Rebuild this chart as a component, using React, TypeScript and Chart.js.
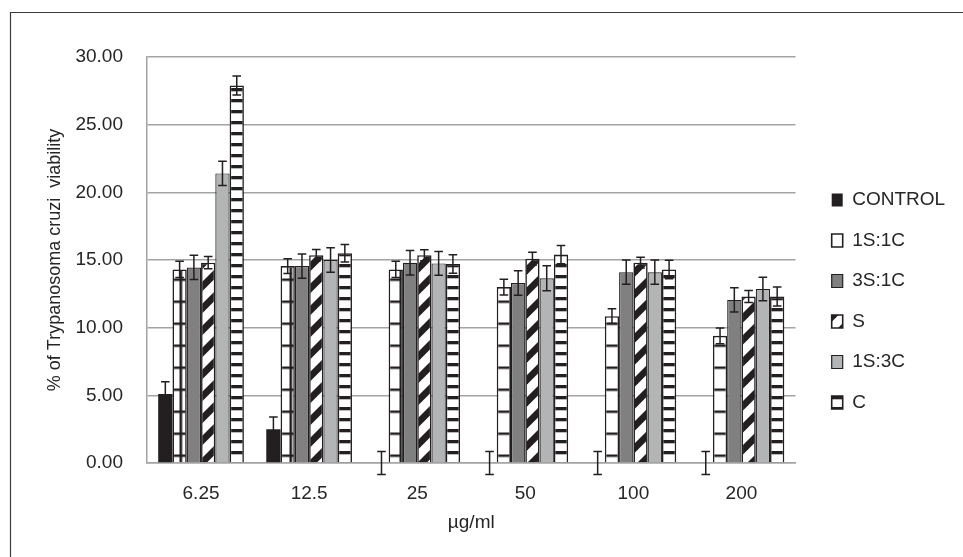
import React, { useEffect, useRef } from 'react';
import { Chart, registerables } from 'chart.js';

Chart.register(...registerables);

// ---------- data ----------
const categories = ['6.25', '12.5', '25', '50', '100', '200'];
const seriesNames = ['CONTROL', '1S:1C', '3S:1C', 'S', '1S:3C', 'C'];

const controlValues = [5.1, 2.5, 0, 0, 0, 0];
const s1c1Values = [14.3, 14.55, 14.3, 13.0, 10.85, 9.4];
const s3c1Values = [14.45, 14.55, 14.8, 13.3, 14.1, 12.05];
const sValues = [14.8, 15.35, 15.35, 15.1, 14.8, 12.3];
const s1c3Values = [21.4, 15.0, 14.75, 13.65, 14.1, 12.85];
const cValues = [27.9, 15.5, 14.7, 15.4, 14.3, 12.3];

const controlErrors = [0.9, 0.9, 0.85, 0.85, 0.85, 0.85];
const s1c1Errors = [0.6, 0.55, 0.6, 0.58, 0.55, 0.58];
const s3c1Errors = [0.9, 0.9, 0.9, 0.9, 0.9, 0.9];
const sErrors = [0.45, 0.42, 0.4, 0.48, 0.4, 0.44];
const s1c3Errors = [0.9, 0.9, 0.87, 0.92, 0.9, 0.87];
const cErrors = [0.7, 0.65, 0.68, 0.68, 0.68, 0.7];

const yMin = 0;
const yMax = 30;
const yStep = 5;

const xTitle = 'µg/ml';
const yTitle = '% of Trypanosoma cruzi  viability';

const seriesValues = [controlValues, s1c1Values, s3c1Values, sValues, s1c3Values, cValues];
const seriesErrors = [controlErrors, s1c1Errors, s3c1Errors, sErrors, s1c3Errors, cErrors];

// ---------- styles ----------
const FONT = "'Liberation Sans', Arial, sans-serif";
const TEXT = '#262626';
const INK = '#231f20';
const GRID = '#a3a3a3';

function tile(size: number, draw: (g: CanvasRenderingContext2D) => void) {
  const c = document.createElement('canvas');
  c.width = size;
  c.height = size;
  const g = c.getContext('2d')!;
  g.fillStyle = '#ffffff';
  g.fillRect(0, 0, size, size);
  g.fillStyle = INK;
  draw(g);
  return c;
}

const borderPlugin = {
  id: 'outerBorder',
  beforeDraw(chart: any) {
    const ctx = chart.ctx;
    ctx.save();
    ctx.strokeStyle = '#3c3c3c';
    ctx.lineWidth = 1.2;
    ctx.beginPath();
    ctx.moveTo(10.5, chart.height);
    ctx.lineTo(10.5, 12.5);
    ctx.lineTo(chart.width, 12.5);
    ctx.stroke();
    ctx.restore();
  },
};

const legendPlacePlugin = {
  id: 'legendPlace',
  afterLayout(chart: any) {
    const lg = chart.legend;
    if (!lg) return;
    const pad = lg.options.labels.padding;
    const boxLeft = 831.7;
    const firstTop = 190.5;
    lg.left = boxLeft - pad;
    lg.right = lg.left + lg.width;
    lg.top = firstTop - pad;
    lg.bottom = chart.height;
    lg.height = lg.bottom - lg.top;
  },
};

const errorBarPlugin = {
  id: 'errorBars',
  afterDatasetsDraw(chart: any) {
    const ctx = chart.ctx;
    const ys = chart.scales.y;
    const cap = 4.3;
    ctx.save();
    ctx.strokeStyle = INK;
    ctx.lineWidth = 1.5;
    chart.data.datasets.forEach((ds: any, di: number) => {
      const meta = chart.getDatasetMeta(di);
      const errs = seriesErrors[di];
      meta.data.forEach((bar: any, i: number) => {
        const v = ds.data[i];
        const e = errs[i];
        const x = bar.x;
        const y1 = ys.getPixelForValue(v + e);
        const y2 = ys.getPixelForValue(v - e);
        ctx.beginPath();
        ctx.moveTo(x, y1);
        ctx.lineTo(x, y2);
        ctx.moveTo(x - cap, y1);
        ctx.lineTo(x + cap, y1);
        ctx.moveTo(x - cap, y2);
        ctx.lineTo(x + cap, y2);
        ctx.stroke();
      });
    });
    ctx.restore();
  },
};

export default function App() {
  const ref = useRef<HTMLCanvasElement | null>(null);

  useEffect(() => {
    const canvas = ref.current!;
    const ctx = canvas.getContext('2d')!;

    const gridPat = ctx.createPattern(
      tile(22, (g) => {
        g.fillRect(0, 0, 2.6, 22);
        g.fillRect(0, 0, 22, 2.4);
      }),
      'repeat'
    )!;
    try {
      gridPat.setTransform(new DOMMatrix([1, 0, 0, 1, 3.5, 14.5]));
    } catch (e) {}

    const diagPat = ctx.createPattern(
      tile(22, (g) => {
        const w = 9.5;
        [0, 22, 44].forEach((c) => {
          g.beginPath();
          g.moveTo(c, 0);
          g.lineTo(c + w, 0);
          g.lineTo(c + w - 22, 22);
          g.lineTo(c - 22, 22);
          g.closePath();
          g.fill();
        });
      }),
      'repeat'
    )!;

    const hPat = ctx.createPattern(
      tile(22, (g) => {
        g.fillRect(0, 0, 22, 3.3);
        g.fillRect(0, 11, 22, 3.3);
      }),
      'repeat'
    )!;

    const fills: any[] = [INK, gridPat, '#808080', diagPat, '#b3b4b6', hPat];
    const legendFills: any[] = [INK, '#ffffff', '#808080', diagPat, '#b3b4b6', hPat];
    const borderWidths = [0, 1.6, 1.2, 1.6, 1.2, 1.6];

    const datasets = seriesNames.map((name, i) => ({
      label: name,
      data: seriesValues[i],
      backgroundColor: fills[i],
      borderColor: INK,
      borderWidth: borderWidths[i],
      categoryPercentage: 0.793,
      barPercentage: 1.0,
    }));

    const font = { family: FONT, size: 19 };

    const chart = new Chart(canvas, {
      type: 'bar',
      data: { labels: categories, datasets },
      options: {
        animation: false,
        responsive: false,
        devicePixelRatio: 1,
        layout: { padding: { left: 0, top: 57, right: 22.6, bottom: 0 } },
        plugins: {
          legend: {
            position: 'right',
            align: 'start',
            labels: {
              boxWidth: 11,
              boxHeight: 13,
              padding: 21.5,
              color: TEXT,
              font,
              generateLabels: (ch: any) => {
                const items = (Chart.defaults.plugins.legend.labels as any).generateLabels(ch);
                items.forEach((it: any, i: number) => {
                  it.fillStyle = legendFills[i];
                  it.strokeStyle = INK;
                });
                return items;
              },
            },
          },
          tooltip: { enabled: false },
        },
        scales: {
          x: {
            grid: { display: false, drawTicks: false },
            border: { display: true, color: GRID, width: 1.5 },
            ticks: { padding: 19, color: TEXT, font },
            title: {
              display: true,
              text: xTitle,
              color: TEXT,
              font,
              padding: { top: 0, bottom: 23 },
            },
            afterFit: (s: any) => {
              s.height = 94;
            },
          },
          y: {
            min: yMin,
            max: yMax,
            ticks: {
              stepSize: yStep,
              padding: 24,
              color: TEXT,
              font,
              callback: (v: any) => Number(v).toFixed(2),
            },
            grid: { color: GRID, lineWidth: 1.5, drawTicks: false },
            border: { display: true, color: GRID, width: 1.5 },
            title: {
              display: true,
              text: yTitle,
              color: TEXT,
              font: { family: FONT, size: 18 },
              padding: { top: 44, bottom: 0 },
            },
            afterFit: (s: any) => {
              s.width = 147;
            },
          },
        },
      } as any,
      plugins: [borderPlugin, legendPlacePlugin, errorBarPlugin],
    });

    return () => chart.destroy();
  }, []);

  return (
    <div style={{ position: 'absolute', left: 0, top: 0, width: 963, height: 557, background: '#fff' }}>
      <canvas ref={ref} width={963} height={557} style={{ display: 'block' }} />
    </div>
  );
}
